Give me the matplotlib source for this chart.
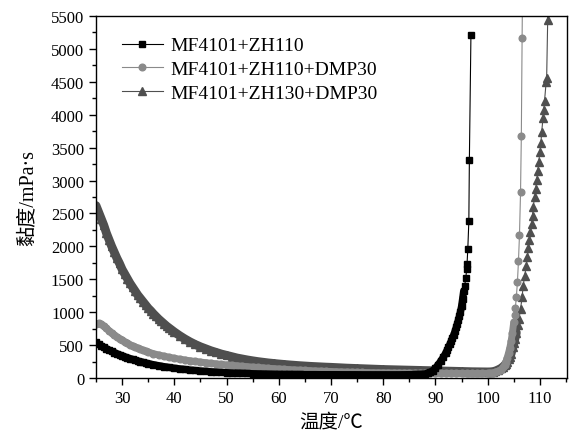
import numpy as np
import matplotlib
matplotlib.use("Agg")
from matplotlib import pyplot as plt
from matplotlib.ticker import MultipleLocator

plt.rcParams['font.family'] = ['Liberation Serif', 'Noto Sans CJK SC', 'DejaVu Sans']

# MF4101+ZH110
x1 = [25, 25.5, 26, 26.5, 27, 27.5, 28, 28.5, 29, 29.5, 30, 30.5, 31, 31.5, 32, 32.5,
      33, 33.5, 34, 34.5, 35, 36, 37, 38, 39, 40, 41, 42, 43, 44, 45, 46, 47, 48, 49,
      50, 51, 52, 53, 54, 55, 56, 57, 58, 59, 60, 61, 62, 63, 64, 65, 66, 67, 68, 69,
      70, 71, 72, 73, 74, 75, 76, 77, 78, 79, 80, 81, 82, 83, 84, 85, 86, 87, 88, 88.5,
      89, 89.5, 90, 90.5, 91, 91.5, 92, 92.25, 92.5, 92.75, 93, 93.25, 93.5, 93.75, 94,
      94.2, 94.4, 94.6, 94.8, 95, 95.2, 95.4, 95.6, 95.8, 96.0, 96.05, 96.2, 96.4, 96.5, 96.8]
y1 = [540, 515, 490, 468, 445, 425, 405, 387, 370, 353, 338, 323, 309, 296, 283, 271,
      260, 249, 239, 229, 220, 203, 188, 174, 161, 150, 140, 131, 122, 115, 108, 102, 96, 91, 86,
      82, 78, 75, 72, 69, 66, 64, 62, 60, 58, 56, 55, 55, 54, 54, 53, 53, 53, 52, 52,
      52, 52, 51, 51, 51, 51, 50, 50, 50, 50, 50, 50, 50, 50, 51, 52, 54, 57, 62, 75,
      90, 112, 150, 200, 255, 315, 385, 425, 465, 510, 555, 605, 655, 710, 770,
      825, 880, 940, 1010, 1090, 1200, 1320, 1400, 1515, 1656, 1727, 1960, 2383, 3308, 5213]

# MF4101+ZH110+DMP30
x2 = [25, 25.5, 26, 26.5, 27, 27.5, 28, 28.5, 29, 29.5, 30, 30.5, 31, 31.5, 32, 32.5,
      33, 33.5, 34, 34.5, 35, 36, 37, 38, 39, 40, 41, 42, 43, 44, 45, 46, 47, 48, 49,
      50, 51, 52, 53, 54, 55, 56, 57, 58, 59, 60, 61, 62, 63, 64, 65, 66, 67, 68, 69,
      70, 71, 72, 73, 74, 75, 76, 77, 78, 79, 80, 81, 82, 83, 84, 85, 86, 87, 88, 89,
      90, 91, 92, 93, 94, 95, 96, 97, 98, 99, 100, 100.5, 101, 101.5, 102, 102.5, 103,
      103.25, 103.5, 103.75, 104, 104.25, 104.5, 104.75, 105, 105.15, 105.3, 105.5, 105.7,
      105.9, 106.1, 106.3, 106.45, 106.6, 106.8]
y2 = [820, 830, 815, 790, 755, 720, 685, 655, 625, 600, 575, 550, 528, 507, 488, 470,
      453, 437, 422, 408, 395, 370, 350, 332, 315, 300, 286, 274, 262, 252, 242, 233, 224, 216, 208,
      200, 193, 186, 179, 172, 166, 160, 154, 148, 143, 138, 133, 128, 124, 120, 116, 112, 108, 105, 102,
      99, 96, 93, 91, 89, 87, 85, 83, 81, 80, 79, 78, 77, 76, 75, 75, 74, 74, 73, 73,
      72, 72, 71, 71, 71, 70, 70, 70, 70, 71, 72, 75, 80, 90, 105, 125, 165,
      200, 250, 310, 380, 460, 560, 690, 850, 950, 1059, 1236, 1454,
      1773, 2178, 2827, 3673, 5167, 7000]

# MF4101+ZH130+DMP30
x3 = [25, 25.5, 26, 26.5, 27, 27.5, 28, 28.5, 29, 29.5, 30, 30.5, 31, 31.5, 32, 32.5,
      33, 33.5, 34, 34.5, 35, 35.5, 36, 36.5, 37, 37.5, 38, 38.5, 39, 39.5, 40, 41, 42,
      43, 44, 45, 46, 47, 48, 49, 50, 51, 52, 53, 54, 55, 56, 57, 58, 59, 60, 61, 62,
      63, 64, 65, 66, 67, 68, 69, 70, 71, 72, 73, 74, 75, 76, 77, 78, 79, 80, 81, 82,
      83, 84, 85, 86, 87, 88, 89, 90, 91, 92, 93, 94, 95, 96, 97, 98, 99, 100, 100.5,
      101, 101.5, 102, 102.5, 103, 103.25, 103.5, 103.75, 104, 104.25, 104.5, 104.8,
      105.0, 105.2, 105.5, 105.8, 106.0, 106.3, 106.6, 106.8, 107.1, 107.4, 107.6, 107.8,
      108.0, 108.2, 108.4, 108.6, 108.7, 109.0, 109.2, 109.4, 109.6, 109.8, 110.0, 110.2,
      110.35, 110.6, 110.75, 110.9, 111.2, 111.3, 111.5, 111.7]
y3 = [2620, 2520, 2420, 2320, 2200, 2100, 2000, 1910, 1820, 1740, 1650, 1580, 1510, 1440, 1380, 1320,
      1260, 1210, 1160, 1110, 1060, 1020, 975, 935, 895, 860, 825, 790, 760, 730, 700, 645, 595,
      550, 510, 475, 445, 415, 390, 365, 345, 325, 305, 290, 275, 262, 250, 240, 230, 222, 214, 207, 200,
      194, 188, 183, 178, 174, 170, 166, 163, 159, 155, 151, 148, 145, 142, 139, 136, 133, 130, 128, 126,
      124, 122, 120, 118, 116, 114, 112, 110, 108, 106, 104, 102, 100, 98, 96, 95, 94, 93, 94,
      98, 108, 125, 145, 175, 195, 220, 250, 285, 325, 370, 467,
      530, 590, 690, 800, 900, 1050, 1225, 1403, 1555, 1707, 1834, 1971,
      2097, 2214, 2340, 2467, 2594, 2746, 2872, 3014, 3150, 3287, 3439, 3571,
      3734, 3947, 4078, 4214, 4494, 4555, 5440, 7000]

labels = ['MF4101+ZH110', 'MF4101+ZH110+DMP30', 'MF4101+ZH130+DMP30']

fig = plt.figure(figsize=(5.76, 4.31), dpi=100)
ax = fig.add_axes([0.1667, 0.1206, 0.8177, 0.8400])

# densely sampled parts show up as a solid band in the original
styles = [
    (x1, y1, 'black', 's', 4.4, 5.2, 95.4, 3),
    (x2, y2, '#8a8a8a', 'o', 4.8, 5.0, 105.0, 2),
    (x3, y3, '#4f4f4f', '^', 6.0, 6.3, 105.5, 1),
]
for (x, y, c, m, ms, bw, cut, z), lab in zip(styles, labels):
    x = np.array(x)
    y = np.array(y)
    band = x <= cut
    ax.plot(x[band], y[band], color=c, lw=bw, solid_capstyle='round', zorder=z)
    ax.plot(x, y, color=c, marker=m, markersize=ms, lw=0.8, label=lab, zorder=z)

ax.set_xlim(25, 115.2)
ax.set_ylim(0, 5500)
ax.xaxis.set_major_locator(MultipleLocator(10))
ax.xaxis.set_minor_locator(MultipleLocator(5))
ax.yaxis.set_major_locator(MultipleLocator(500))
ax.yaxis.set_minor_locator(MultipleLocator(250))
ax.tick_params(which='major', direction='out', length=5, width=1, labelsize=12)
ax.tick_params(which='minor', direction='out', length=3, width=1)
ax.tick_params(top=False, right=False)
for s in ax.spines.values():
    s.set_linewidth(1)

ax.set_xlabel('温度/℃', fontsize=14, labelpad=5)
ax.set_ylabel('黏度/mPa·s', fontsize=14.5, labelpad=10)

ax.legend(loc='upper left', bbox_to_anchor=(0.03, 0.975), frameon=False, fontsize=14,
          handlelength=2.1, handletextpad=0.4, labelspacing=0.32, borderaxespad=0.2)

fig.savefig('out.png', dpi=100)
